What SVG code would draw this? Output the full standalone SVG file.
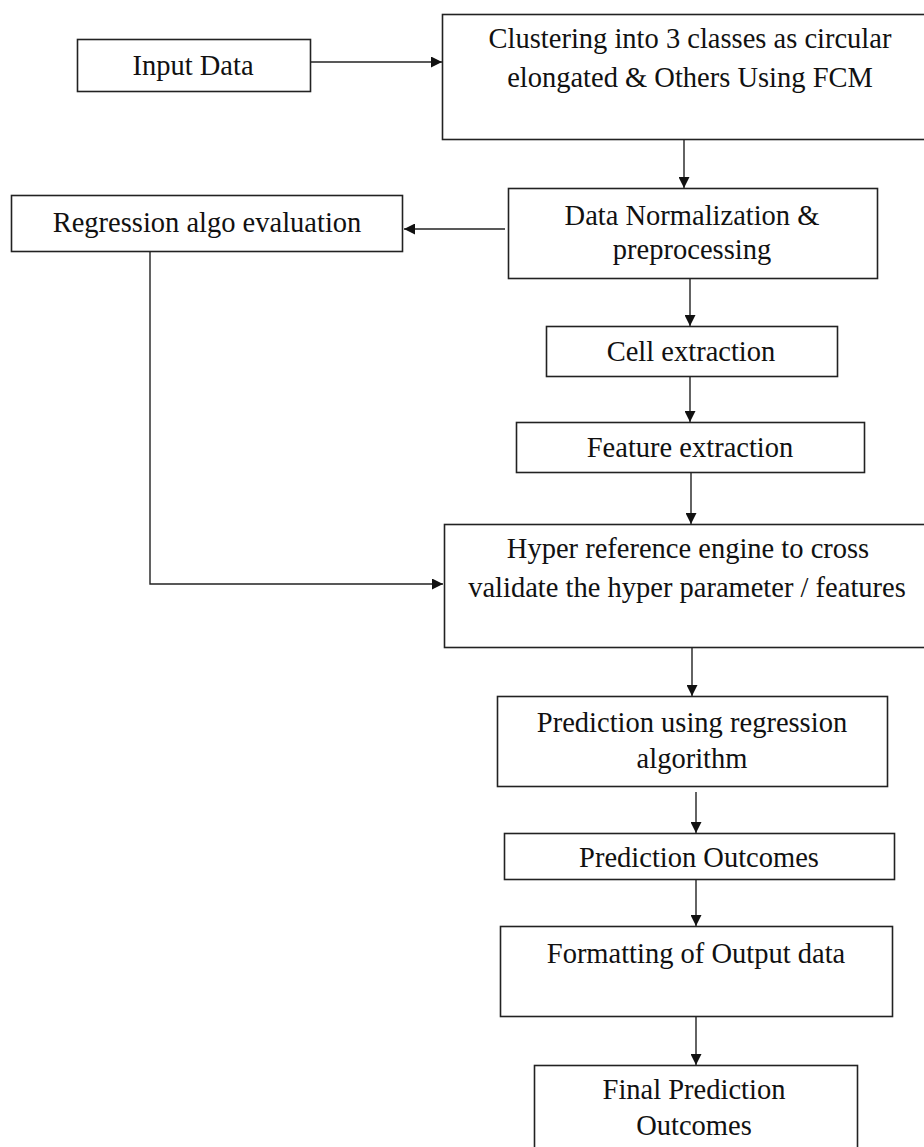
<svg xmlns="http://www.w3.org/2000/svg" width="924" height="1147" viewBox="0 0 924 1147">
<defs>
<marker id="ah" viewBox="0 0 10 10" refX="10" refY="5" markerWidth="11" markerHeight="11" markerUnits="userSpaceOnUse" orient="auto">
<path d="M0,0 L10,5 L0,10 Z" fill="#111"/>
</marker>
<style>
.box{fill:#fff;stroke:#222;stroke-width:1.6}
.t{font-family:"Liberation Serif","Times New Roman",serif;font-size:28.5px;fill:#111;text-anchor:middle}
.c{fill:none;stroke:#222;stroke-width:1.4;marker-end:url(#ah)}
.g{fill:none;stroke:#555;stroke-width:1.8}
</style>
</defs>
<rect width="924" height="1147" fill="#fff"/>
<g id="connectors">
<path class="c" d="M311,62 H442"/>
<path class="c" d="M684,140 V188"/>
<path class="c" d="M505,229 H404"/>
<path class="c" d="M690,278 V326"/>
<path class="c" d="M690,377 V422"/>
<path class="c" d="M150,252 V584 H443"/>
<path class="c" d="M691,473 V524"/>
<path class="c" d="M692,648 V696"/>
<path class="c" d="M696,792 V833"/>
<path class="c" d="M696,879 V926"/>
<path class="c" d="M696,1017 V1065"/>
</g>
<g id="input-data">
<rect class="box" x="77.5" y="39.5" width="233" height="52"/>
<text class="t" x="193" y="75">Input Data</text>
</g>
<g id="clustering">
<rect class="box" x="442.5" y="14.5" width="490" height="125"/>
<text class="t" x="690" y="48">Clustering into 3 classes as circular</text>
<text class="t" x="690" y="87">elongated &amp; Others Using FCM</text>
</g>
<g id="regression-eval">
<rect class="box" x="11.5" y="195.5" width="391" height="56"/>
<text class="t" x="207" y="232">Regression algo evaluation</text>
</g>
<g id="normalization">
<rect class="box" x="508.5" y="188.5" width="369" height="90"/>
<text class="t" x="692" y="225">Data Normalization &amp;</text>
<text class="t" x="692" y="259">preprocessing</text>
</g>
<g id="cell-extraction">
<rect class="box" x="546.5" y="326.5" width="291" height="50"/>
<text class="t" x="691" y="361">Cell extraction</text>
</g>
<g id="feature-extraction">
<rect class="box" x="516.5" y="422.5" width="348" height="50"/>
<text class="t" x="690" y="457">Feature extraction</text>
</g>
<g id="hyper-engine">
<rect class="box" x="444.5" y="524.5" width="490" height="123"/>
<text class="t" x="688" y="558">Hyper reference engine to cross</text>
<text class="t" x="687" y="597">validate the hyper parameter / features</text>
</g>
<g id="prediction">
<rect class="box" x="497.5" y="696.5" width="390" height="90"/>
<text class="t" x="692" y="732">Prediction using regression</text>
<text class="t" x="692" y="768">algorithm</text>
</g>
<g id="prediction-outcomes">
<rect class="box" x="504.5" y="833.5" width="390" height="46"/>
<text class="t" x="699" y="867">Prediction Outcomes</text>
</g>
<g id="formatting">
<rect class="box" x="500.5" y="926.5" width="392" height="90"/>
<text class="t" x="696" y="963">Formatting of Output data</text>
</g>
<g id="final-outcomes">
<rect class="box" x="534.5" y="1065.5" width="323" height="100"/>
<text class="t" x="694" y="1099">Final Prediction</text>
<text class="t" x="694" y="1135">Outcomes</text>
</g>
</svg>
